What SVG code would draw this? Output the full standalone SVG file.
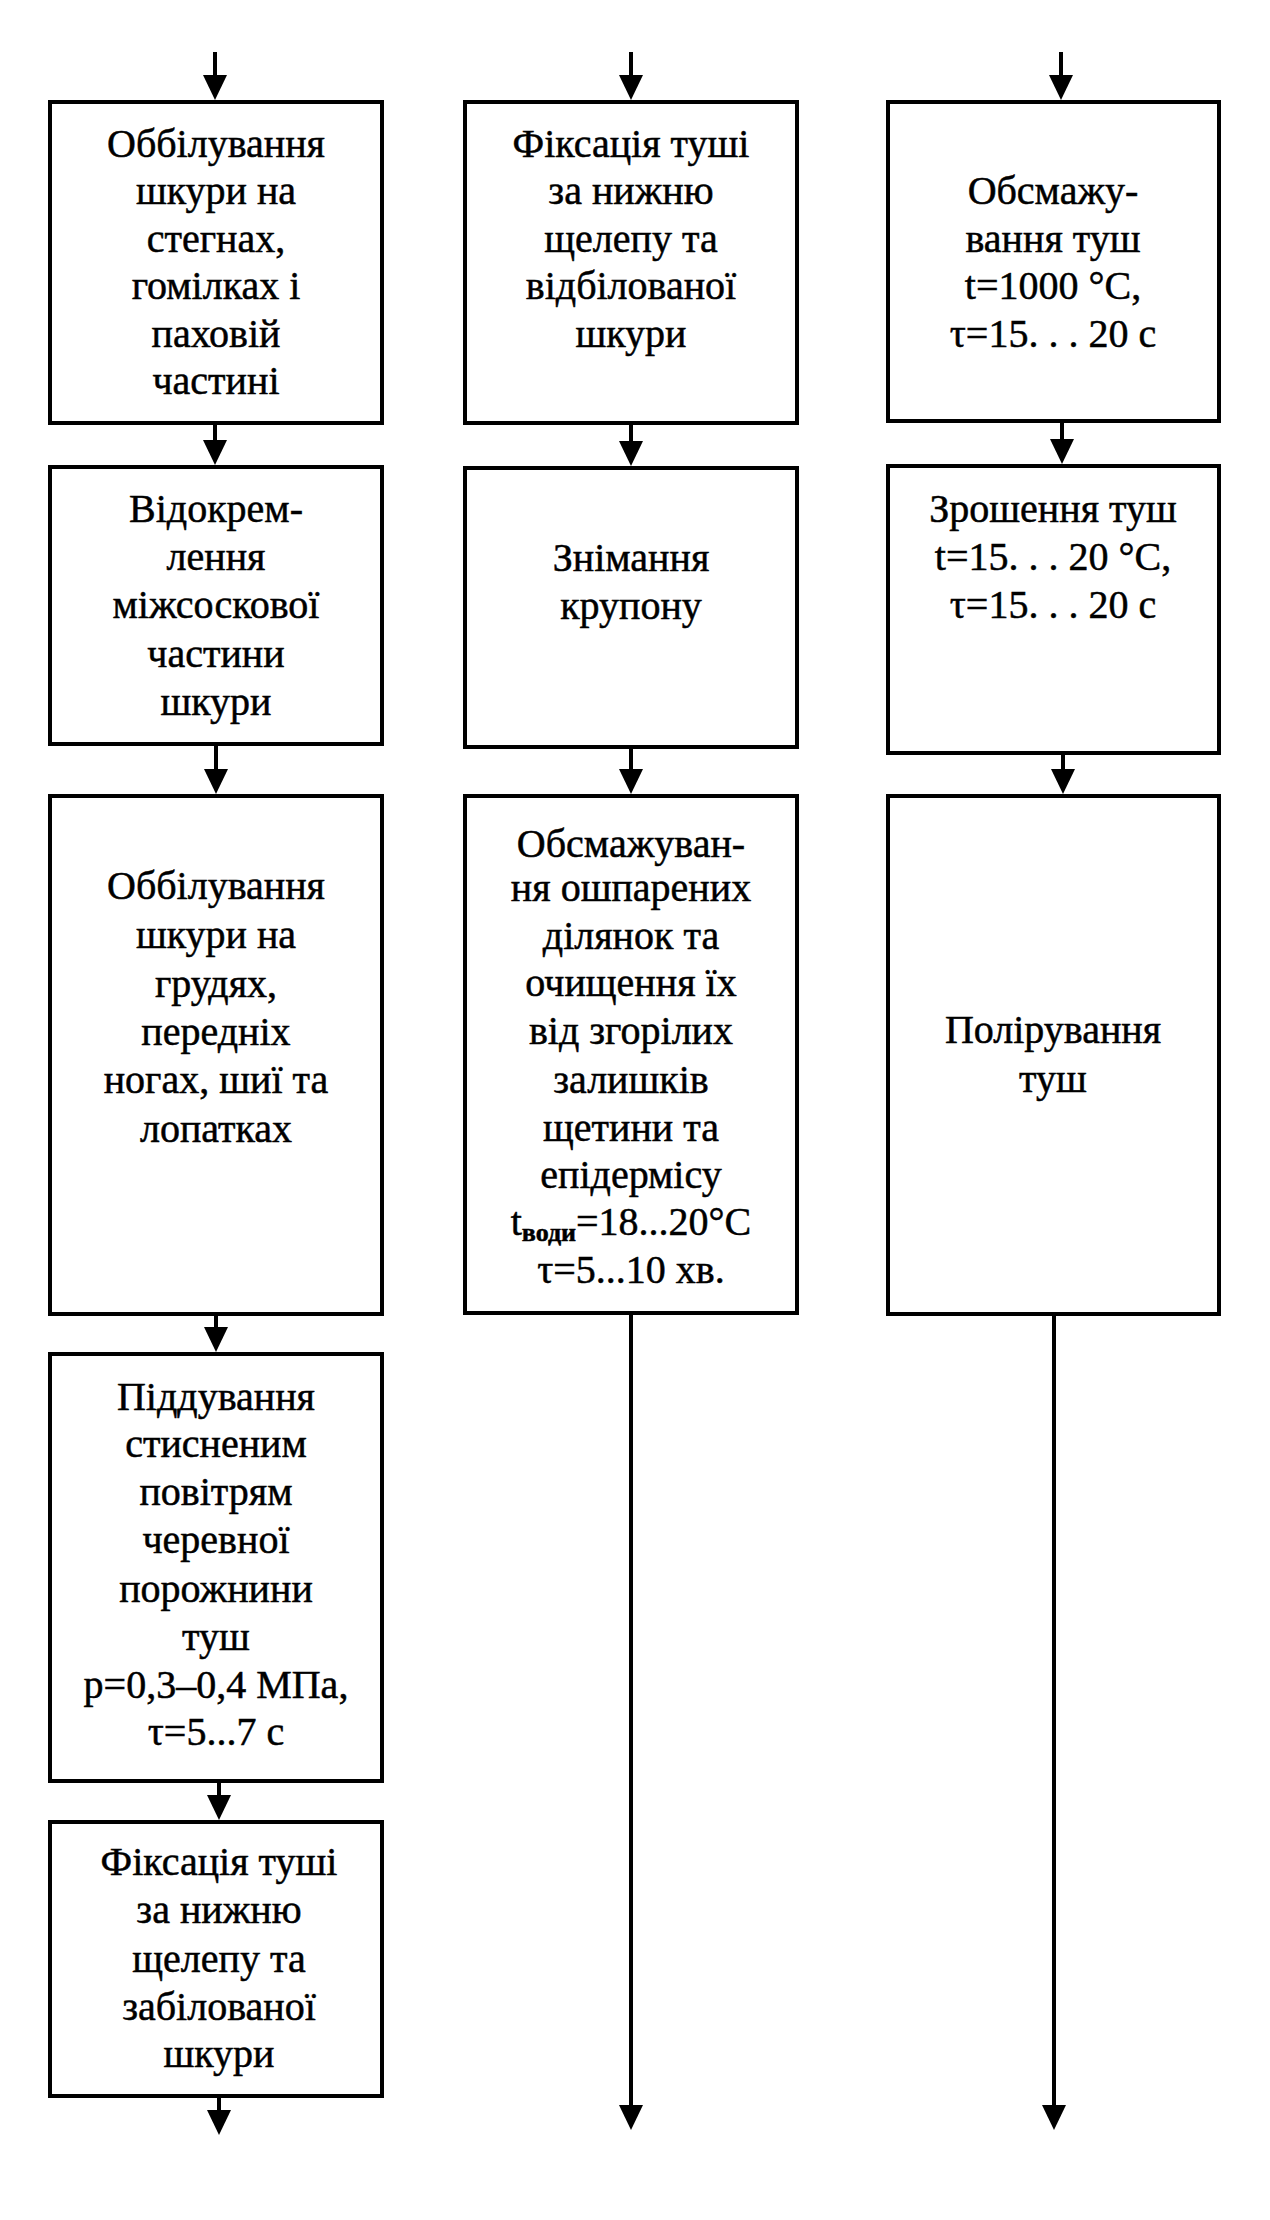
<svg xmlns="http://www.w3.org/2000/svg" width="1270" height="2220" viewBox="0 0 1270 2220">
<defs>
<style>
.box{fill:#fff;stroke:#000;stroke-width:4}
.ln{stroke:#000;stroke-width:4;fill:none}
.t{font-family:"Liberation Serif","Times New Roman",serif;font-size:40px;text-anchor:middle;fill:#000;stroke:#000;stroke-width:0.5}
.sub{font-size:26px;font-weight:bold}
</style>
<marker id="ah" markerUnits="userSpaceOnUse" markerWidth="24" markerHeight="25" viewBox="0 0 24 25" refX="12" refY="0" orient="0" overflow="visible">
<path d="M0,0 L24,0 L12,25 Z" fill="#000"/>
</marker>
</defs>
<rect width="1270" height="2220" fill="#fff"/>
<g id="connectors">
<line class="ln" x1="215" y1="52" x2="215" y2="75" marker-end="url(#ah)"/>
<line class="ln" x1="215" y1="423" x2="215" y2="440" marker-end="url(#ah)"/>
<line class="ln" x1="216" y1="744" x2="216" y2="769" marker-end="url(#ah)"/>
<line class="ln" x1="216" y1="1314" x2="216" y2="1327" marker-end="url(#ah)"/>
<line class="ln" x1="219" y1="1781" x2="219" y2="1795" marker-end="url(#ah)"/>
<line class="ln" x1="219" y1="2096" x2="219" y2="2110" marker-end="url(#ah)"/>
<line class="ln" x1="631" y1="52" x2="631" y2="75" marker-end="url(#ah)"/>
<line class="ln" x1="631" y1="423" x2="631" y2="441" marker-end="url(#ah)"/>
<line class="ln" x1="631" y1="747" x2="631" y2="769" marker-end="url(#ah)"/>
<line class="ln" x1="631" y1="1313" x2="631" y2="2105" marker-end="url(#ah)"/>
<line class="ln" x1="1061" y1="52" x2="1061" y2="75" marker-end="url(#ah)"/>
<line class="ln" x1="1062" y1="421" x2="1062" y2="439" marker-end="url(#ah)"/>
<line class="ln" x1="1063" y1="753" x2="1063" y2="769" marker-end="url(#ah)"/>
<line class="ln" x1="1054" y1="1314" x2="1054" y2="2105" marker-end="url(#ah)"/>
</g>
<g id="n1">
<rect class="box" x="50" y="102" width="332" height="321"/>
<text class="t" x="216" y="157">Оббілування</text>
<text class="t" x="216" y="204">шкури на</text>
<text class="t" x="216" y="252">стегнах,</text>
<text class="t" x="216" y="299">гомілках і</text>
<text class="t" x="216" y="347">паховій</text>
<text class="t" x="216" y="394">частині</text>
</g>
<g id="n2">
<rect class="box" x="50" y="467" width="332" height="277"/>
<text class="t" x="216" y="522">Відокрем-</text>
<text class="t" x="216" y="570">лення</text>
<text class="t" x="216" y="618">міжсоскової</text>
<text class="t" x="216" y="667">частини</text>
<text class="t" x="216" y="715">шкури</text>
</g>
<g id="n3">
<rect class="box" x="50" y="796" width="332" height="518"/>
<text class="t" x="216" y="899">Оббілування</text>
<text class="t" x="216" y="948">шкури на</text>
<text class="t" x="216" y="997">грудях,</text>
<text class="t" x="216" y="1045">передніх</text>
<text class="t" x="216" y="1093">ногах, шиї та</text>
<text class="t" x="216" y="1142">лопатках</text>
</g>
<g id="n4">
<rect class="box" x="50" y="1354" width="332" height="427"/>
<text class="t" x="216" y="1410">Піддування</text>
<text class="t" x="216" y="1457">стисненим</text>
<text class="t" x="216" y="1505">повітрям</text>
<text class="t" x="216" y="1553">черевної</text>
<text class="t" x="216" y="1602">порожнини</text>
<text class="t" x="216" y="1650">туш</text>
<text class="t" x="216" y="1698">p=0,3–0,4 МПа,</text>
<text class="t" x="216" y="1745">τ=5...7 с</text>
</g>
<g id="n5">
<rect class="box" x="50" y="1822" width="332" height="274"/>
<text class="t" x="219" y="1875">Фіксація туші</text>
<text class="t" x="219" y="1923">за нижню</text>
<text class="t" x="219" y="1972">щелепу та</text>
<text class="t" x="219" y="2020">забілованої</text>
<text class="t" x="219" y="2067">шкури</text>
</g>
<g id="n6">
<rect class="box" x="465" y="102" width="332" height="321"/>
<text class="t" x="631" y="157">Фіксація туші</text>
<text class="t" x="631" y="204">за нижню</text>
<text class="t" x="631" y="252">щелепу та</text>
<text class="t" x="631" y="299">відбілованої</text>
<text class="t" x="631" y="347">шкури</text>
</g>
<g id="n7">
<rect class="box" x="465" y="468" width="332" height="279"/>
<text class="t" x="631" y="571">Знімання</text>
<text class="t" x="631" y="619">крупону</text>
</g>
<g id="n8">
<rect class="box" x="465" y="796" width="332" height="517"/>
<text class="t" x="631" y="857">Обсмажуван-</text>
<text class="t" x="631" y="901">ня ошпарених</text>
<text class="t" x="631" y="949">ділянок та</text>
<text class="t" x="631" y="996">очищення їх</text>
<text class="t" x="631" y="1044">від згорілих</text>
<text class="t" x="631" y="1093">залишків</text>
<text class="t" x="631" y="1141">щетини та</text>
<text class="t" x="631" y="1188">епідермісу</text>
<text class="t" x="631" y="1235">t<tspan class="sub" dy="6">води</tspan><tspan dy="-6">=18...20°C</tspan></text>
<text class="t" x="631" y="1283">τ=5...10 хв.</text>
</g>
<g id="n9">
<rect class="box" x="888" y="102" width="331" height="319"/>
<text class="t" x="1053" y="204">Обсмажу-</text>
<text class="t" x="1053" y="252">вання туш</text>
<text class="t" x="1053" y="299">t=1000 °C,</text>
<text class="t" x="1053" y="347">τ=15. . . 20 с</text>
</g>
<g id="n10">
<rect class="box" x="888" y="466" width="331" height="287"/>
<text class="t" x="1053" y="522">Зрошення туш</text>
<text class="t" x="1053" y="570">t=15. . . 20 °C,</text>
<text class="t" x="1053" y="618">τ=15. . . 20 с</text>
</g>
<g id="n11">
<rect class="box" x="888" y="796" width="331" height="518"/>
<text class="t" x="1053" y="1043">Полірування</text>
<text class="t" x="1053" y="1092">туш</text>
</g>
</svg>
